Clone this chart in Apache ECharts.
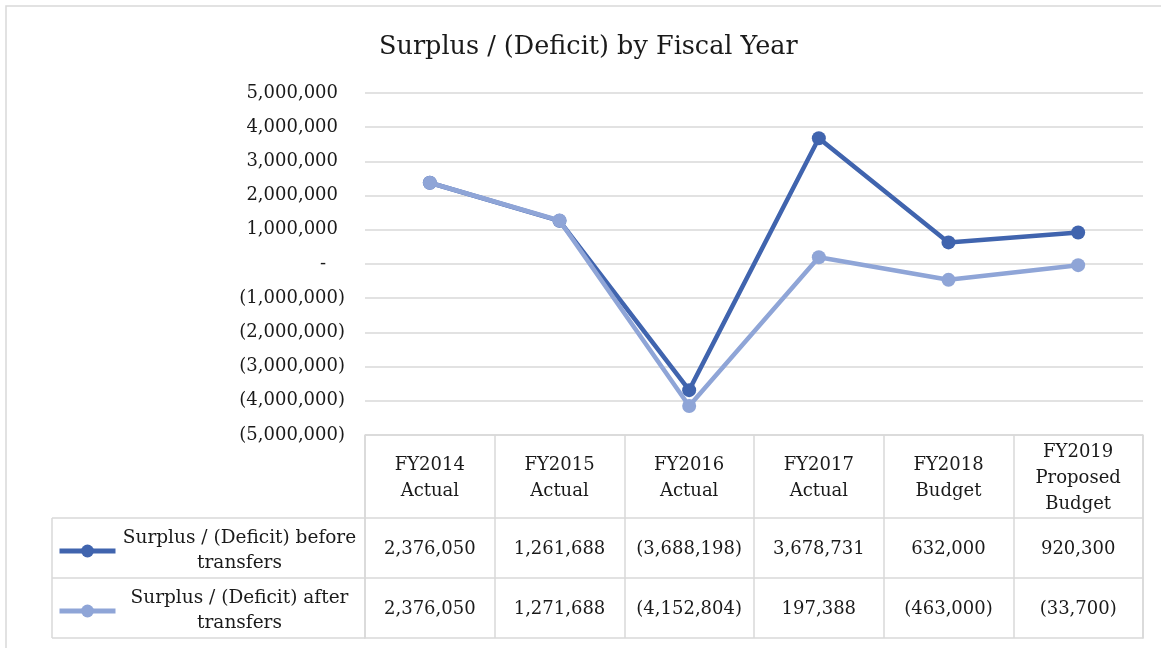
<!DOCTYPE html>
<html>
<head>
<meta charset="utf-8">
<script src="https://cdn.jsdelivr.net/npm/echarts@6/dist/echarts.min.js"></script>
<style>html,body{margin:0;padding:0;background:#fff}#c{width:1161px;height:648px}</style>
</head>
<body>
<div id="c"></div>
<script>
// ---- data ----
const categories = ['FY2014\nActual', 'FY2015\nActual', 'FY2016\nActual', 'FY2017\nActual', 'FY2018\nBudget', 'FY2019\nProposed\nBudget'];
const seriesNames = ['Surplus / (Deficit) before transfers', 'Surplus / (Deficit) after transfers'];
const beforeTransfers = [2376050, 1261688, -3688198, 3678731, 632000, 920300];
const afterTransfers = [2376050, 1271688, -4152804, 197388, -463000, -33700];
const yTicks = { min: -5000000, max: 5000000, interval: 1000000 };

// ---- layout ----
const FONT = 'DejaVu Serif';
const PL = 365, PR = 1143, PT = 93, PB = 435, TB = 638;
const ROW_H = 60;
const W = 1161, H = 648;
const LEG_L = 52;
const tableH = TB - PB;
const r1Top = TB - 2 * ROW_H;
const r2Top = TB - ROW_H;

const darkBlue = '#4064AE';
const lightBlue = '#8FA5D7';
const gridC = '#d9d9d9';
const textC = '#1a1a1a';

function fmt(v) {
  const s = Math.abs(v).toLocaleString('en-US');
  return v < 0 ? '(' + s + ')' : s;
}

const headerCells = categories.map((c, i) => [i, tableH - (tableH - 2 * ROW_H) / 2 - 2, c]);
const row1Cells = beforeTransfers.map((v, i) => [i, ROW_H * 1.5 - 1, fmt(v)]);
const row2Cells = afterTransfers.map((v, i) => [i, ROW_H * 0.5 - 1, fmt(v)]);

const chart = echarts.init(document.getElementById('c'), null, { renderer: 'canvas' });

const cellLabel = {
  show: true, position: 'inside', color: textC, fontFamily: FONT, fontSize: 18, lineHeight: 26,
  formatter: p => p.value[2]
};

chart.setOption({
  animation: false,
  backgroundColor: '#fff',
  title: {
    text: 'Surplus / (Deficit) by Fiscal Year',
    left: 374, top: 29,
    textStyle: { fontFamily: FONT, fontSize: 25.5, fontWeight: 'normal', color: textC }
  },
  legend: [0, 1].map(i => ({
    data: [seriesNames[i]],
    left: LEG_L, top: (i === 0 ? r1Top : r2Top) + 6,
    itemWidth: 56, itemHeight: 16, itemGap: 0,
    lineStyle: { width: 5 },
    selectedMode: false,
    formatter: n => {
      const parts = n.split(' transfers');
      return '{a|' + parts[0] + '}\n{a|transfers}';
    },
    textStyle: {
      fontFamily: FONT, fontSize: 18.5, color: textC,
      rich: { a: { width: 238, align: 'center', fontFamily: FONT, fontSize: 18.5, lineHeight: 25, color: textC } }
    }
  })),
  grid: [
    { left: PL, right: W - PR, top: PT, height: PB - PT },
    { left: PL, right: W - PR, top: PB, height: tableH }
  ],
  xAxis: [
    { gridIndex: 0, type: 'category', data: categories, boundaryGap: true,
      axisLine: { show: false }, axisTick: { show: false }, axisLabel: { show: false } },
    { gridIndex: 1, type: 'category', data: categories, boundaryGap: true, position: 'bottom',
      axisLine: { show: true, lineStyle: { color: gridC, width: 1.5 } },
      axisTick: { show: false }, axisLabel: { show: false },
      splitLine: { show: true, lineStyle: { color: gridC, width: 1.5 } } }
  ],
  yAxis: [
    { gridIndex: 0, type: 'value', min: yTicks.min, max: yTicks.max, interval: yTicks.interval,
      axisLine: { show: false }, axisTick: { show: false },
      splitLine: { show: true, lineStyle: { color: gridC, width: 1.5 } },
      axisLabel: {
        margin: 20, fontFamily: FONT, fontSize: 18, color: textC,
        formatter: v => v === 0 ? '{t|-}{z|}' : (v < 0 ? '{t|' + fmt(v) + '}' : '{t|' + fmt(v) + '}{s|}'),
        rich: { t: { fontFamily: FONT, fontSize: 18, color: textC }, s: { width: 7 }, z: { width: 19 } }
      } },
    { gridIndex: 1, type: 'value', min: 0, max: tableH,
      axisLine: { show: true, lineStyle: { color: gridC, width: 1.5 } },
      axisTick: { show: false }, axisLabel: { show: false }, splitLine: { show: false } },
    { gridIndex: 1, type: 'value', min: 0, max: tableH, position: 'right',
      axisLine: { show: true, lineStyle: { color: gridC, width: 1.5 } },
      axisTick: { show: false }, axisLabel: { show: false }, splitLine: { show: false } }
  ],
  series: [
    { name: seriesNames[0], type: 'line', xAxisIndex: 0, yAxisIndex: 0, data: beforeTransfers,
      color: darkBlue, lineStyle: { width: 4.5, color: darkBlue },
      symbol: 'circle', symbolSize: 14, itemStyle: { color: darkBlue }, z: 3 },
    { name: seriesNames[1], type: 'line', xAxisIndex: 0, yAxisIndex: 0, data: afterTransfers,
      color: lightBlue, lineStyle: { width: 4.5, color: lightBlue },
      symbol: 'circle', symbolSize: 14, itemStyle: { color: lightBlue }, z: 4 },
    { type: 'scatter', xAxisIndex: 1, yAxisIndex: 1, symbolSize: 0, silent: true,
      itemStyle: { opacity: 1 },
      data: headerCells.concat(row1Cells, row2Cells), label: cellLabel,
      markLine: { silent: true, symbol: 'none', label: { show: false },
        lineStyle: { color: gridC, width: 1.5, type: 'solid' },
        data: [{ yAxis: ROW_H }, { yAxis: 2 * ROW_H }, { yAxis: tableH }] } }
  ],
  graphic: [
    { type: 'rect', shape: { x: 6, y: 6, width: W, height: H }, style: { fill: 'none', stroke: gridC, lineWidth: 1.5 }, silent: true },
    { type: 'line', shape: { x1: LEG_L, y1: r1Top, x2: PL, y2: r1Top }, style: { stroke: gridC, lineWidth: 1.5 } },
    { type: 'line', shape: { x1: LEG_L, y1: r2Top, x2: PL, y2: r2Top }, style: { stroke: gridC, lineWidth: 1.5 } },
    { type: 'line', shape: { x1: LEG_L, y1: TB, x2: PL, y2: TB }, style: { stroke: gridC, lineWidth: 1.5 } },
    { type: 'line', shape: { x1: LEG_L, y1: r1Top, x2: LEG_L, y2: TB }, style: { stroke: gridC, lineWidth: 1.5 } }
  ]
});
</script>
</body>
</html>
